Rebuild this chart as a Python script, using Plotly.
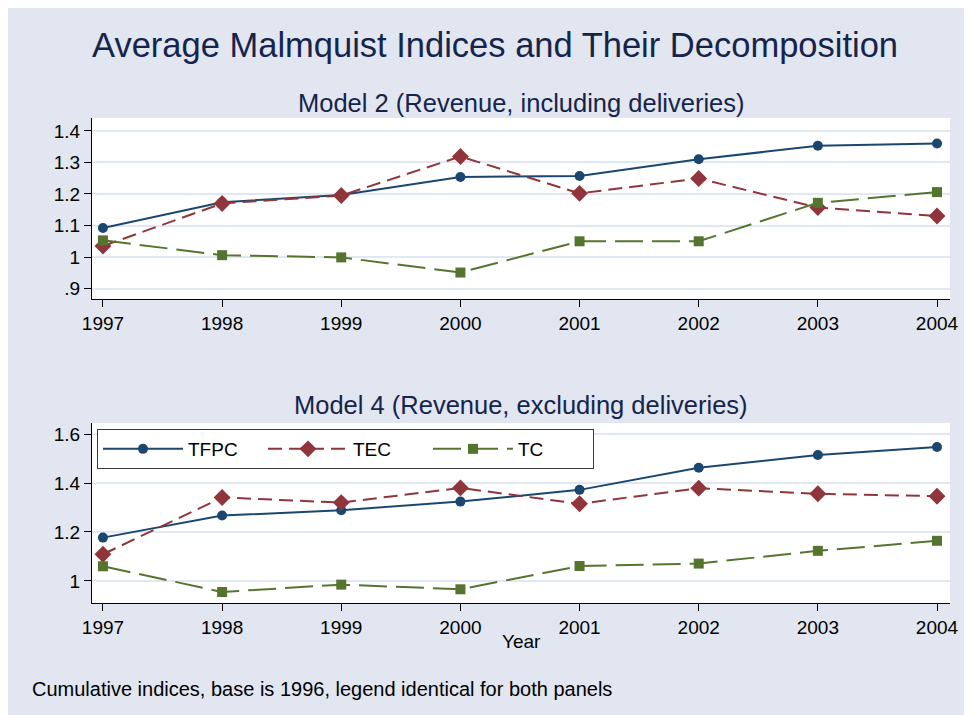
import plotly.graph_objects as go
from plotly.subplots import make_subplots

years = [1997, 1998, 1999, 2000, 2001, 2002, 2003, 2004]
year_labels = ["1997", "1998", "1999", "2000", "2001", "2002", "2003", "2004"]

m2_tfpc = [1.092, 1.174, 1.197, 1.254, 1.257, 1.310, 1.353, 1.360]
m2_tec = [1.035, 1.170, 1.195, 1.319, 1.202, 1.249, 1.157, 1.130]
m2_tc = [1.053, 1.006, 0.999, 0.951, 1.050, 1.050, 1.172, 1.206]

m4_tfpc = [1.177, 1.267, 1.289, 1.324, 1.372, 1.462, 1.514, 1.547]
m4_tec = [1.109, 1.341, 1.320, 1.380, 1.315, 1.379, 1.356, 1.346]
m4_tc = [1.060, 0.955, 0.985, 0.966, 1.061, 1.071, 1.123, 1.164]

series_names = ["TFPC", "TEC", "TC"]
y1_ticks = [0.9, 1.0, 1.1, 1.2, 1.3, 1.4]
y1_labels = [".9", "1", "1.1", "1.2", "1.3", "1.4"]
y2_ticks = [1.0, 1.2, 1.4, 1.6]
y2_labels = ["1", "1.2", "1.4", "1.6"]

title = "Average Malmquist Indices and Their Decomposition"
sub1 = "Model 2 (Revenue, including deliveries)"
sub2 = "Model 4 (Revenue, excluding deliveries)"
xtitle = "Year"
note = "Cumulative indices, base is 1996, legend identical for both panels"

colors = ["rgb(26,71,111)", "rgb(144,53,59)", "rgb(85,117,47)"]
dashes = ["solid", "14px,7px", "28px,9px"]
symbols = ["circle", "diamond", "square"]
msizes = [10, 13, 10]

OFF = 8  # page offset of the figure (body margin)
W, H = 972, 715
L, R, T, B = 84, 30, 110, 120
ph = H - T - B
pw = W - L - R


def py(p):
    return (H - B - (p - OFF)) / ph


def px(p):
    return ((p - OFF) - L) / pw


fig = make_subplots(rows=2, cols=1)
panel_data = [[m2_tfpc, m2_tec, m2_tc], [m4_tfpc, m4_tec, m4_tc]]
for r, data in enumerate(panel_data, start=1):
    for i, vals in enumerate(data):
        fig.add_trace(go.Scatter(
            x=years, y=vals, mode="lines+markers", name=series_names[i],
            line=dict(color=colors[i], width=2, dash=dashes[i]),
            marker=dict(color=colors[i], symbol=symbols[i], size=msizes[i]),
            showlegend=(r == 2),
        ), row=r, col=1)

font = "Liberation Sans, Arial, sans-serif"
grid = "rgb(226,232,241)"
bg = "rgb(225,230,240)"
navy = "rgb(22,36,76)"

axis_common = dict(showline=True, linecolor="black", linewidth=1, ticks="outside",
                   ticklen=7, tickcolor="black", tickfont=dict(size=19, color="black", family=font),
                   zeroline=False)

fig.update_xaxes(range=[1996.908, 2004.109], tickvals=years, ticktext=year_labels,
                 showgrid=False, **axis_common)
fig.update_yaxes(showgrid=True, gridcolor=grid, gridwidth=2, **axis_common)
fig.update_yaxes(range=[0.867, 1.441], tickvals=y1_ticks, ticktext=y1_labels, row=1, col=1)
fig.update_yaxes(range=[0.910, 1.645], tickvals=y2_ticks, ticktext=y2_labels, row=2, col=1)

fig.update_layout(
    yaxis=dict(domain=[py(299), 1.0]),
    yaxis2=dict(domain=[0.0, py(423)]),
    xaxis=dict(domain=[0, 1]),
    xaxis2=dict(domain=[0, 1]),
)

annotations = [
    dict(text=title, x=px(495), y=py(45), font=dict(size=34.5, color=navy)),
    dict(text=sub1, x=0.5, y=py(103), font=dict(size=25.5, color=navy)),
    dict(text=sub2, x=0.5, y=py(405), font=dict(size=25.5, color=navy)),
    dict(text=xtitle, x=0.5, y=py(641), font=dict(size=19, color="black")),
    dict(text=note, x=px(30), y=py(689), xanchor="left", font=dict(size=20, color="black")),
]
for a in annotations:
    a.setdefault("xanchor", "center")
    a.update(xref="paper", yref="paper", yanchor="middle", showarrow=False)
    a["font"]["family"] = font

fig.update_layout(
    width=W, height=H,
    margin=dict(l=L, r=R, t=T, b=B),
    paper_bgcolor=bg, plot_bgcolor="white",
    font=dict(family=font, size=19, color="black"),
    annotations=annotations,
    showlegend=True,
    legend=dict(orientation="h", x=px(97), y=py(429), xanchor="left", yanchor="top",
                bgcolor="white", bordercolor="rgb(60,60,60)", borderwidth=1,
                itemwidth=80,
                font=dict(size=19, color="black", family=font), entrywidth=70),
)

fig.write_html("out.html")
